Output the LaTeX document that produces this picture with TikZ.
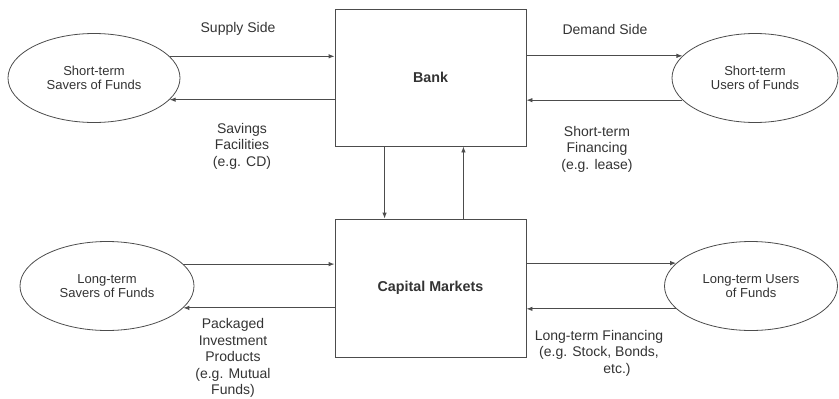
\documentclass[tikz,border=0pt]{standalone}
\usepackage{fontspec}
\setmainfont{Liberation Sans}
\usetikzlibrary{shapes.geometric,arrows.meta}
\definecolor{ink}{gray}{0.3}
\definecolor{txt}{gray}{0.2}
\tikzset{
  box/.style={draw=ink,line width=0.9pt,rectangle,minimum width=191pt,minimum height=137pt,inner sep=0pt,text=txt,font=\bfseries\fontsize{14.3}{17}\selectfont},
  oval/.style={draw=ink,line width=0.8pt,ellipse,minimum width=172pt,minimum height=89pt,inner sep=0pt,align=center,text=txt,font=\fontsize{13}{14}\selectfont},
  lbl/.style={align=center,text=txt,font=\fontsize{14}{16.5}\selectfont,inner sep=0pt},
  arr/.style={draw=ink,line width=0.9pt,-{Latex[length=6pt,width=4.5pt]}}
}
\begin{document}
\begin{tikzpicture}[x=1pt,y=-1pt]
\useasboundingbox (0,0) rectangle (839,399);
\node[box] (bank) at (430.5,77.5) {Bank};
\node[box,minimum height=138pt] (cap) at (430.5,288) {Capital Markets};
\node[oval] (sts) at (94,78) {Short-term\\Savers of Funds};
\node[oval,minimum width=166pt] (stu) at (755,78) {Short-term\\Users of Funds};
\node[oval,minimum width=174pt] (lts) at (107,286) {Long-term\\Savers of Funds};
\node[oval,minimum width=173pt] (ltu) at (751,286) {Long-term Users\\of Funds};
% short-term flows
\draw[arr] (sts.16.5) -- (sts.16.5 -| bank.west);
\draw[arr] (sts.-16.5 -| bank.west) -- (sts.-16.5);
\draw[arr] (stu.163.5 -| bank.east) -- (stu.163.5);
\draw[arr] (stu.-163.5) -- (stu.-163.5 -| bank.east);
% long-term flows
\draw[arr] (lts.16.5) -- (lts.16.5 -| cap.west);
\draw[arr] (lts.-16.5 -| cap.west) -- (lts.-16.5);
\draw[arr] (ltu.163.5 -| cap.east) -- (ltu.163.5);
\draw[arr] (ltu.-163.5) -- (ltu.-163.5 -| cap.east);
% vertical flows
\draw[arr] ([xshift=50pt]bank.south west) -- ([xshift=50pt]cap.north west);
\draw[arr] ([xshift=-63pt]cap.north east) -- ([xshift=-63pt]bank.south east);
% labels
\node[lbl] (l1) at (238,29) {Supply Side};
\node[lbl] (l2) at (605,29) {Demand Side};
\node[lbl] (l3) at (242,146) {Savings\\Facilities\\(e.g. CD)};
\node[lbl] (l4) at (597,149) {Short-term\\Financing\\(e.g. lease)};
\node[lbl] (l5) at (233,358) {Packaged\\Investment\\Products\\(e.g. Mutual\\Funds)};
\node[lbl] (l6) at (599,353) {Long-term Financing\\(e.g. Stock, Bonds,\\\hspace*{36pt}etc.)};
\end{tikzpicture}
\end{document}
